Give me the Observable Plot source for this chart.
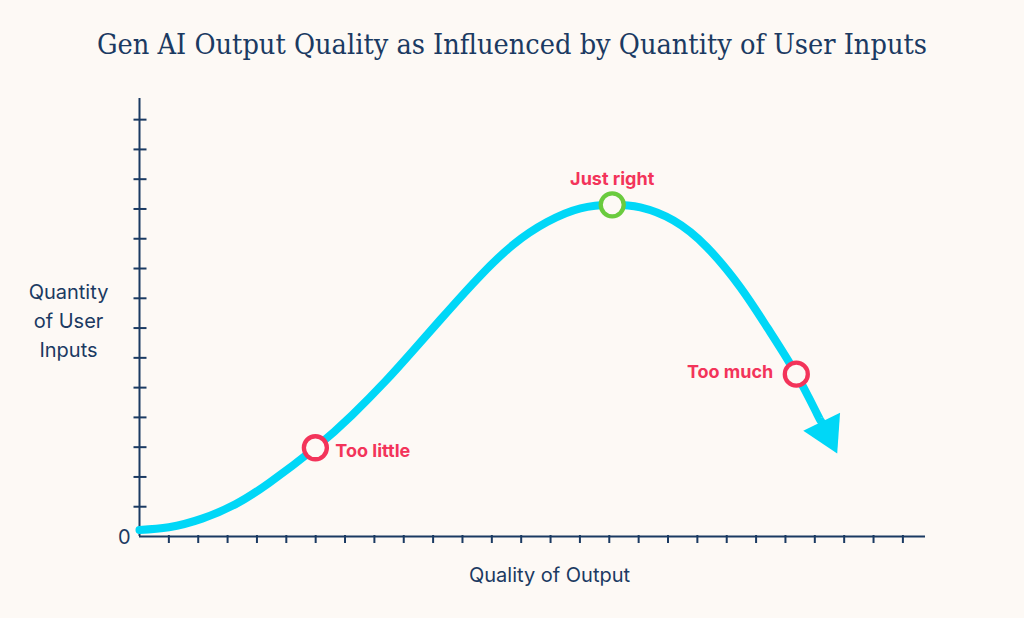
<!DOCTYPE html>
<html><head><meta charset="utf-8">
<script src="https://cdn.jsdelivr.net/npm/d3@7"></script>
<script src="https://cdn.jsdelivr.net/npm/@observablehq/plot@0.6"></script>
<style>
html,body{margin:0;padding:0;background:#fdf9f5;}
#title{height:90px;box-sizing:border-box;padding-top:30px;text-align:center;font-family:"DejaVu Serif Condensed","DejaVu Serif",serif;font-size:28.6px;color:#1b3a62;line-height:1;white-space:nowrap;}
#chart svg{display:block;}
</style></head><body>
<div id="title"></div>
<div id="chart"></div>
<script>
// Curve (Quality of Output on x, Quantity of User Inputs on y)
const quality = [0, 1, 2.13, 3.26, 4.40, 5.99, 7.24, 8.37, 9.34, 10.47, 11.61, 12.74, 13.88, 15.02, 16.10, 17.06, 18.19, 19.33, 20.47, 21.38, 22.37, 23.08, 23.23];
const inputs  = [0.22, 0.31, 0.60, 1.08, 1.79, 2.98, 4.08, 5.21, 6.27, 7.53, 8.76, 9.81, 10.56, 11.02, 11.14, 11.05, 10.61, 9.71, 8.36, 7.02, 5.45, 4.11, 3.85];
// Arrow head at the end of the curve
const arrowQuality = [23.41];
const arrowInputs = [3.50];
// Annotated points
const markerLabels = ["Too little", "Just right", "Too much"];
const markerQuality = [5.99, 16.10, 22.37];
const markerInputs = [2.98, 11.14, 5.45];
const markerKind = ["off", "ideal", "off"];
// Axis ticks and labels
const xTicks = d3.range(1, 27);
const yTicks = d3.range(1, 15);
const xLabel = "Quality of Output";
const yLabel = "Quantity\nof User\nInputs";
const originLabel = "0";
const titleText = "Gen AI Output Quality as Influenced by Quantity of User Inputs";

document.getElementById("title").textContent = titleText;

const curve = quality.map((q, i) => ({q, u: inputs[i]}));
const arrowHead = arrowQuality.map((q, i) => ({q, u: arrowInputs[i]}));
const markers = markerLabels.map((label, i) => ({label, q: markerQuality[i], u: markerInputs[i], kind: markerKind[i]}));

const navy = "#1b3a62", cyan = "#00d7f7", red = "#f3345a", green = "#6acb3e", bg = "#fdf9f5";
const sans = "Inter, 'Noto Sans', sans-serif";

const chart = Plot.plot({
  width: 1024, height: 528,
  marginLeft: 139, marginRight: 99, marginTop: 8, marginBottom: 82,
  style: {background: bg, fontFamily: sans, overflow: "visible"},
  x: {domain: [0, 26.77]},
  y: {domain: [0, 14.71]},
  color: {type: "identity"},
  marks: [
    Plot.axisX(xTicks, {tickSize: 8, dy: -1, stroke: navy, strokeWidth: 2, fill: "none", label: null}),
    Plot.axisY(yTicks, {tickSize: 13, dx: 7.5, stroke: navy, strokeWidth: 2, fill: "none", label: null}),
    Plot.ruleX([0], {stroke: navy, strokeWidth: 2}),
    Plot.ruleY([0], {stroke: navy, strokeWidth: 2}),
    Plot.line(curve, {x: "q", y: "u", stroke: cyan, strokeWidth: 8, curve: "natural"}),
    Plot.dot(arrowHead, {x: "q", y: "u", symbol: "triangle", r: 15.2, rotate: 154, fill: cyan, stroke: "none"}),
    Plot.dot(markers, {x: "q", y: "u", r: 11.5, stroke: d => d.kind === "ideal" ? green : red, strokeWidth: 4.3, fill: bg}),
    Plot.text(markers.filter((d, i) => i === 0), {x: "q", y: "u", text: "label", textAnchor: "start", dx: 20, dy: 3.6, fill: red, fontWeight: 700, fontSize: 18}),
    Plot.text(markers.filter((d, i) => i === 1), {x: "q", y: "u", text: "label", textAnchor: "middle", dy: -25.5, fill: red, fontWeight: 700, fontSize: 18}),
    Plot.text(markers.filter((d, i) => i === 2), {x: "q", y: "u", text: "label", textAnchor: "end", dx: -23, dy: -2, fill: red, fontWeight: 700, fontSize: 18}),
    Plot.text([yLabel], {frameAnchor: "left", dx: -71, dy: 1, textAnchor: "middle", lineHeight: 1.45, fontSize: 20, fill: navy}),
    Plot.text([xLabel], {frameAnchor: "bottom", dx: 17, dy: 45, textAnchor: "middle", fontSize: 20, fill: navy}),
    Plot.text([originLabel], {x: 0, y: 0, textAnchor: "end", dx: -9, dy: 1.5, fontSize: 20, fill: navy})
  ]
});
document.getElementById("chart").appendChild(chart);
</script></body></html>
